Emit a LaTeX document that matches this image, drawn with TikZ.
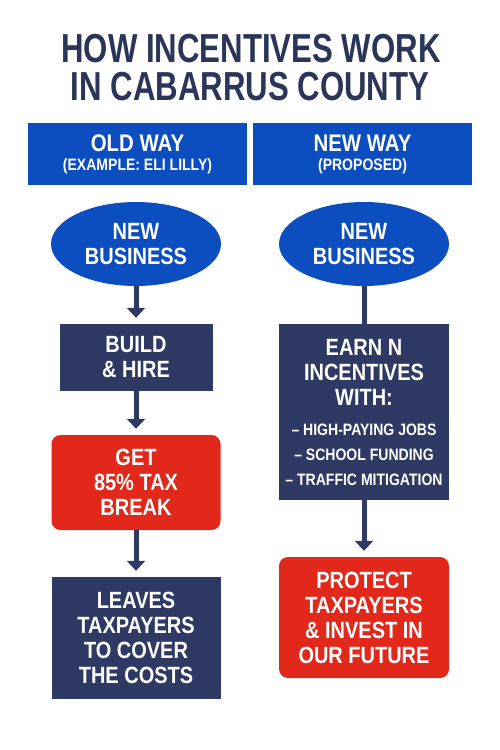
\documentclass[tikz,border=0pt]{standalone}
\usepackage{fontspec}
\setmainfont{Liberation Sans}[FakeStretch=0.85]
\newfontfamily\titleFont{Liberation Sans}[FakeStretch=0.77]
\usetikzlibrary{arrows.meta,shapes.geometric}
\definecolor{cabNavy}{HTML}{2E3A63}
\definecolor{cabTitulo}{HTML}{2B3459}
\definecolor{cabAzul}{HTML}{0C4DC0}
\definecolor{cabRojo}{HTML}{E2281A}
\colorlet{colViejo}{cabNavy}
\colorlet{colNuevo}{cabRojo}

\begin{document}
\begin{tikzpicture}[
        x=1pt, y=-1pt,
        bloque/.style={rectangle, align=center, text=white, inner sep=0pt, font=\bfseries\fontsize{23.5}{25}\selectfont},
        bloqueCabecera/.style={bloque, fill=cabAzul, minimum width=219pt, minimum height=62pt, font=\bfseries\fontsize{24}{19}\selectfont},
        bloqueNegocio/.style={bloque, ellipse, fill=cabAzul, minimum width=170pt, minimum height=84pt},
        bloqueNavy/.style={bloque, fill=colViejo, minimum width=169pt},
        bloqueRojo/.style={bloque, fill=colNuevo, minimum width=169pt, rounded corners=9pt},
        titulo/.style={anchor=base, text=cabTitulo, font=\titleFont\bfseries\fontsize{40.5}{38}\selectfont},
        flecha/.style={-{Triangle[width=18pt, length=10pt]}, line width=5pt, draw=cabNavy, shorten >=6pt},
        enlace/.style={line width=5pt, draw=cabNavy}
    ]
        \useasboundingbox (0, 0) rectangle (500, 750);
        \fill[white] (0, 0) rectangle (500, 750);

        % Titulo
        \node[titulo] (tituloArriba) at (251, 62) {HOW INCENTIVES WORK};
        \node[titulo] (tituloAbajo) at (250, 100) {IN CABARRUS COUNTY};

        % Cabeceras
        \node[bloqueCabecera] (cabViejo) at (137.5, 154) {OLD WAY\\{\fontsize{16.5}{19}\selectfont (EXAMPLE: ELI LILLY)}};
        \node[bloqueCabecera] (cabNuevo) at (362.5, 154) {NEW WAY\\{\fontsize{16.5}{19}\selectfont (PROPOSED)}};

        % Columna izquierda (old way)
        \node[bloqueNegocio] (negocioViejo) at (136, 244) {NEW\\BUSINESS};
        \node[bloqueNavy, minimum width=153pt, minimum height=67pt] (construir) at (136, 357.5) {BUILD\\\& HIRE};
        \node[bloqueRojo, minimum height=95pt] (descuento) at (136, 482.5) {GET\\85\% TAX\\BREAK};
        \node[bloqueNavy, minimum height=122pt] (costes) at (136, 638) {LEAVES\\TAXPAYERS\\TO COVER\\THE COSTS};

        % Columna derecha (new way)
        \node[bloqueNegocio] (negocioNuevo) at (364, 244) {NEW\\BUSINESS};
        \node[bloqueNavy, minimum width=170pt, minimum height=176pt] (ganar) at (364, 412) {EARN N\\INCENTIVES\\WITH:\\[5pt]{\fontsize{16.5}{25}\selectfont – HIGH-PAYING JOBS}\\{\fontsize{16.5}{25}\selectfont – SCHOOL FUNDING}\\{\fontsize{16.5}{25}\selectfont – TRAFFIC MITIGATION}};
        \node[bloqueRojo, minimum width=170pt, minimum height=121pt] (proteger) at (364, 617.5) {PROTECT\\TAXPAYERS\\\& INVEST IN\\OUR FUTURE};

        % Flechas
        \draw[flecha] (negocioViejo.south) -- (construir.north);
        \draw[flecha] (construir.south) -- (descuento.north);
        \draw[flecha] (descuento.south) -- (costes.north);
        \draw[enlace] (negocioNuevo.south) -- (ganar.north);
        \draw[flecha] (ganar.south) -- (proteger.north);
    \end{tikzpicture}
\end{document}
